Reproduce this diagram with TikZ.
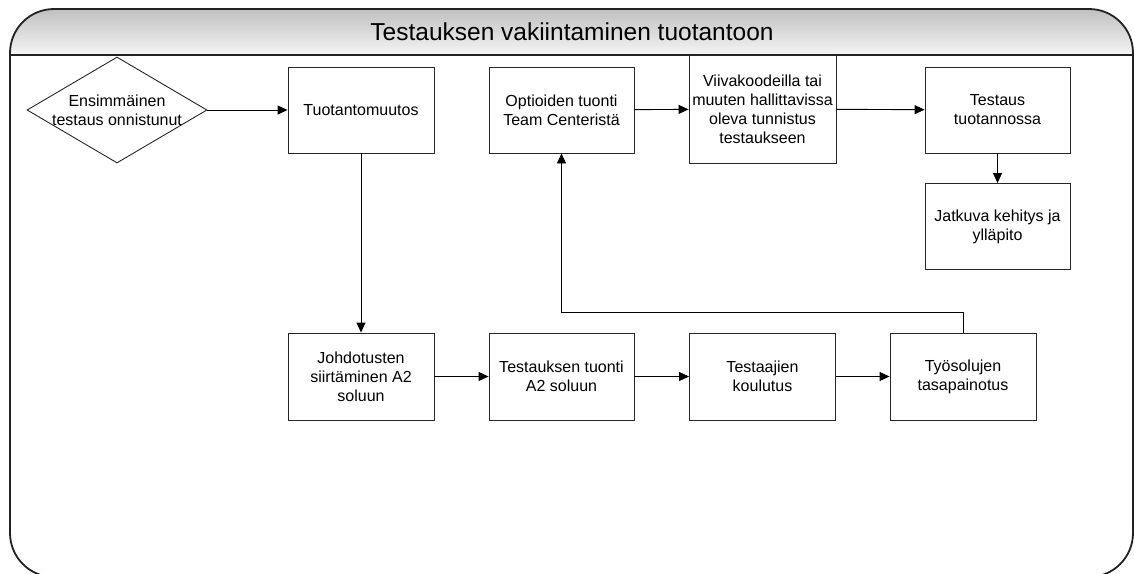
\documentclass[tikz,border=0pt]{standalone}
\usepackage{fontspec}
\setmainfont{Liberation Sans}
\usetikzlibrary{arrows.meta,shapes.geometric}
\definecolor{frameline}{RGB}{34,34,34}
\definecolor{hdrtop}{RGB}{192,192,192}
\definecolor{hdrbot}{RGB}{245,245,245}

\begin{document}
\begin{tikzpicture}[x=1pt,y=-1pt,
  font=\fontsize{16}{19}\selectfont, >={Triangle[length=10pt,width=9pt]},
  box/.style={draw=black!85,line width=.9pt,minimum width=146pt,minimum height=86pt,
    inner sep=0pt,align=center},
  decision/.style={diamond,draw=black!85,line width=.9pt,minimum width=180pt,
    minimum height=106pt,inner sep=0pt},
  arr/.style={->,line width=.9pt,draw=black},
  frame/.style={draw=frameline,line width=1.8pt}
]
\useasboundingbox (0,0) rectangle (1134,573);

% header band and outer frame
\begin{scope}
  \clip[rounded corners=44pt] (10,9) rectangle (1133,577);
  \shade[top color=hdrtop,bottom color=hdrbot] (10,9) rectangle (1133,55);
\end{scope}
\draw[frame,rounded corners=44pt] (10,9) rectangle (1133,577);
\draw[frame] (10,55) -- (1133,55);
\node[font=\fontsize{24.5}{28}\selectfont] (title) at (572,32)
 {Testauksen vakiintaminen tuotantoon};

\node[decision,label={[align=center]center:Ensimmäinen\\testaus onnistunut}]
 (first) at (117,110) {};
\node[box] (change) at (361,110) {Tuotantomuutos};
\node[box,minimum width=145pt] (options) at (561.5,110) {Optioiden tuonti\\Team Centeristä};
\node[box,minimum width=147pt,minimum height=108pt] (barcode) at (762.5,109)
 {Viivakoodeilla tai\\muuten hallittavissa\\oleva tunnistus\\testaukseen};
\node[box,minimum width=145pt] (prodtest) at (997.5,110) {Testaus\\tuotannossa};
\node[box,minimum width=145pt] (upkeep) at (997.5,226.5) {Jatkuva kehitys ja\\ylläpito};

\node[box,minimum height=87pt] (wiring) at (361,376.5) {Johdotusten\\siirtäminen A2\\soluun};
\node[box,minimum width=145pt,minimum height=87pt] (import) at (561.5,376.5)
 {Testauksen tuonti\\A2 soluun};
\node[box,minimum height=87pt] (training) at (762.5,376.5) {Testaajien\\koulutus};
\node[box,minimum height=87pt] (balance) at (963,376.5) {Työsolujen\\tasapainotus};

\draw[arr] (first.east) -- (change.west);
\draw[arr] (change) -- (wiring);
\draw[arr] (wiring) -- (import);
\draw[arr] (import) -- (training);
\draw[arr] (training) -- (balance);

\coordinate (loop) at (963,312);
\draw[arr] (balance.north) -- (loop) -| (options.south);

\draw[arr] (options) -- (barcode);
\draw[arr] (barcode) -- (prodtest);
\draw[arr] (prodtest) -- (upkeep);
\end{tikzpicture}
\end{document}
